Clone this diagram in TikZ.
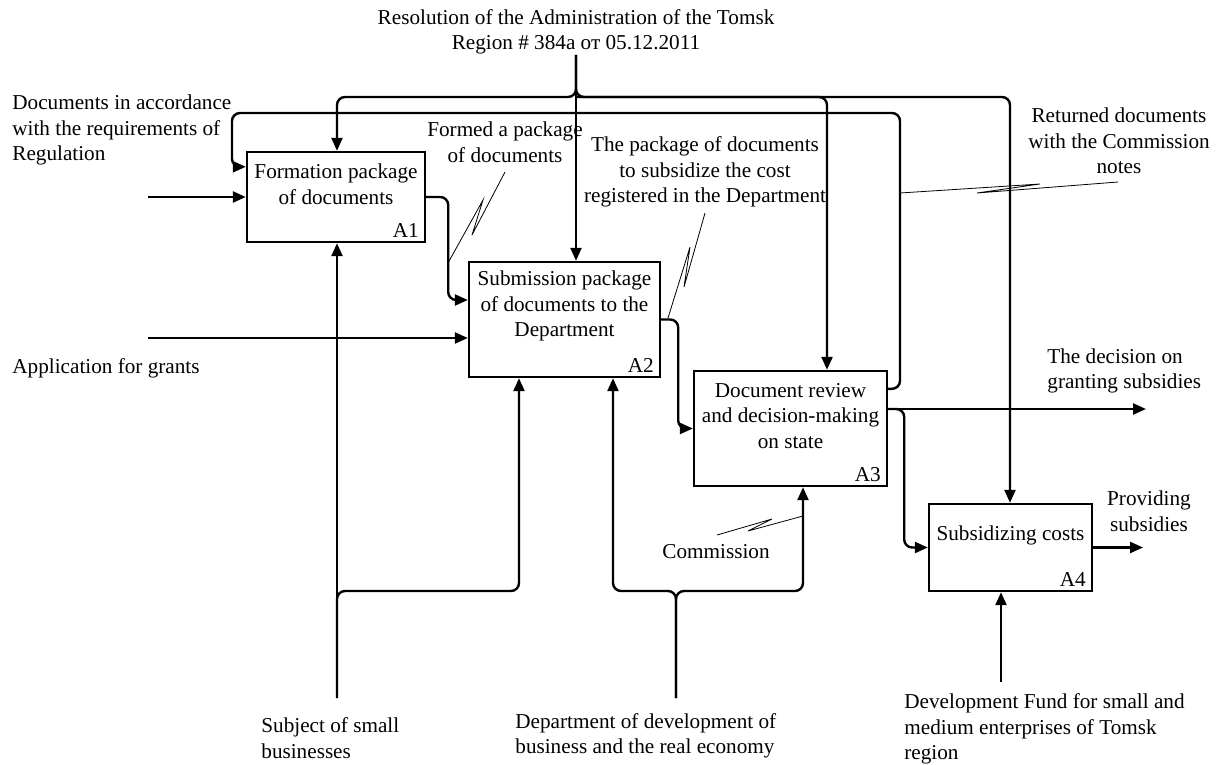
\documentclass[tikz,border=0pt]{standalone}
\usepackage{fontspec}
\setmainfont{Liberation Serif}
\usepackage{tikz}
\usetikzlibrary{arrows.meta, positioning, calc}
\tikzset{
	fn/.style  ={rectangle, draw=black, line width=1.2pt, inner sep=0pt},
	sig/.style ={-{Triangle[length=6.5pt, width=5.5pt]}, line width=1.2pt, rounded corners=4pt},
	note/.style={line width=0.4pt},
	txt/.style ={align=center, inner sep=0pt},
	% activity number in the lower right corner
	num/.style ={anchor=south east, inner sep=0pt},
}
\begin{document}
\begin{tikzpicture}[x=0.5pt, y=-0.5pt, font=\fontsize{10.6}{12.8}\selectfont]
	\useasboundingbox (0,0) rectangle (1220,765);
	% activity boxes
	\node[fn, minimum width=89pt, minimum height=45pt] (a1) at (336,197) {};
	\node[fn, minimum width=95.5pt, minimum height=57.5pt] (a2) at (564.5,319.5) {};
	\node[fn, minimum width=96.5pt, minimum height=57.5pt] (a3) at (790.5,428.5) {};
	\node[fn, minimum width=81.5pt, minimum height=43.5pt] (a4) at (1010.5,547.5) {};
	\node[txt] (t1) at (336,184.5) {Formation package\\of documents};
	\node[txt] (t2) at (564.5,306) {Submission package\\of documents to the\\Department};
	\node[txt] (t3) at (790.5,416) {Document review\\and decision-making\\on state};
	\node[txt] (t4) at (1010.5,535) {Subsidizing costs};
	\node[num] at ($(a1.south east)+(-7,-5)$) {A1};
	\node[num] at ($(a2.south east)+(-7,-5)$) {A2};
	\node[num] at ($(a3.south east)+(-7,-5)$) {A3};
	\node[num] at ($(a4.south east)+(-7,-5)$) {A4};

	% labels of the arrows
	\node[txt] (res) at (576,32) {Resolution of the Administration of the Tomsk\\Region \# 384a от 05.12.2011};
	\node[txt, align=left, anchor=west] (reg) at (12,130) {Documents in accordance\\with the requirements of\\Regulation};
	\node[txt, align=left, anchor=west] (appl) at (12,368) {Application for grants};
	\node[txt] (formed) at (505,142) {Formed a package\\of documents};
	\node[txt] (pkg) at (705,172) {The package of documents\\to subsidize the cost\\registered in the Department};
	\node[txt] (ret) at (1119,141) {Returned documents\\with the Commission\\notes};
	\node[txt, align=left, anchor=west] (dec) at (1047,371) {The decision on\\granting subsidies};
	\node[txt] (prov) at (1149,511) {Providing\\subsidies};
	\node[txt] (comm) at (716,552) {Commission};
	\node[txt, align=left, anchor=west] (subj) at (261,738) {Subject of small\\businesses};
	\node[txt, align=left, anchor=west] (dept) at (515,736) {Department of development of\\business and the real economy};
	\node[txt, align=left, anchor=west] (fund) at (904,729) {Development Fund for small and\\medium enterprises of Tomsk\\region};

	% free ends and branch points
	\coordinate (top) at (576,55);
	\coordinate (busT) at (576,97);
	\coordinate (c1) at (337,97);
	\coordinate (c3) at (827,97);
	\coordinate (c4) at (1010,97);
	\coordinate (r1) at (900,113);
	\coordinate (r0) at (232,113);
	\coordinate (in1) at (148,197);
	\coordinate (in2) at (148,338);
	\coordinate (out3) at (1146,409);
	\coordinate (out4) at (1143,547.5);
	\coordinate (m1) at (337,698);
	\coordinate (m2) at (676,698);
	\coordinate (m4) at (1001,682);
	\coordinate (b1) at (519,591);
	\coordinate (b2) at (613,591);
	\coordinate (b3) at (803,591);

	% controls
	\draw[sig] (top) -- (top |- a2.north);
	\draw[sig] (top) -- (busT) -- (c1) -- (c1 |- a1.north);
	\draw[sig] (top) -- (busT) -- (c4) -- (c4 |- a4.north);
	\draw[sig] (busT) -- (c3) -- (c3 |- a3.north);
	% inputs and outputs
	\draw[sig] (in1) -- (in1 -| a1.west);
	\draw[sig] (in2) -- (in2 -| a2.west);
	\draw[sig] (a1.east) -- ++(22,0) |- ($(a2.west)+(0,-19.5)$);
	\draw[sig] (a2.east) -- ++(17,0) |- (a3.west);
	\draw[sig] ($(a3.north east)+(0,19)$) -| (r1) -- (r0) |- ($(a1.north west)+(0,16)$);
	\draw[sig] (out3 -| a3.east) -- (out3);
	\draw[sig] (out3 -| a3.east) -- ++(16,0) |- (a4.west);
	\draw[sig] (a4.east) -- (out4);
	% mechanisms
	\draw[sig] (m1) -- (m1 |- a1.south);
	\draw[sig] (m1) |- (b1) -- (b1 |- a2.south);
	\draw[sig] (m2) |- (b2) -- (b2 |- a2.south);
	\draw[sig] (m2) |- (b3) -- (b3 |- a3.south);
	\draw[sig] (m4) -- (m4 |- a4.south);

	% squiggles
	\draw[note] (505,172) -- (472,235) -- (483,200) -- (448,263);
	\draw[note] (705,213) -- (684,287) -- (690,247) -- (668,318);
	\draw[note] (1118,182) -- (977,193) -- (1040,184) -- (900,193);
	\draw[note] (717,535) -- (772,519) -- (748,531) -- (803,516);
\end{tikzpicture}
\end{document}
